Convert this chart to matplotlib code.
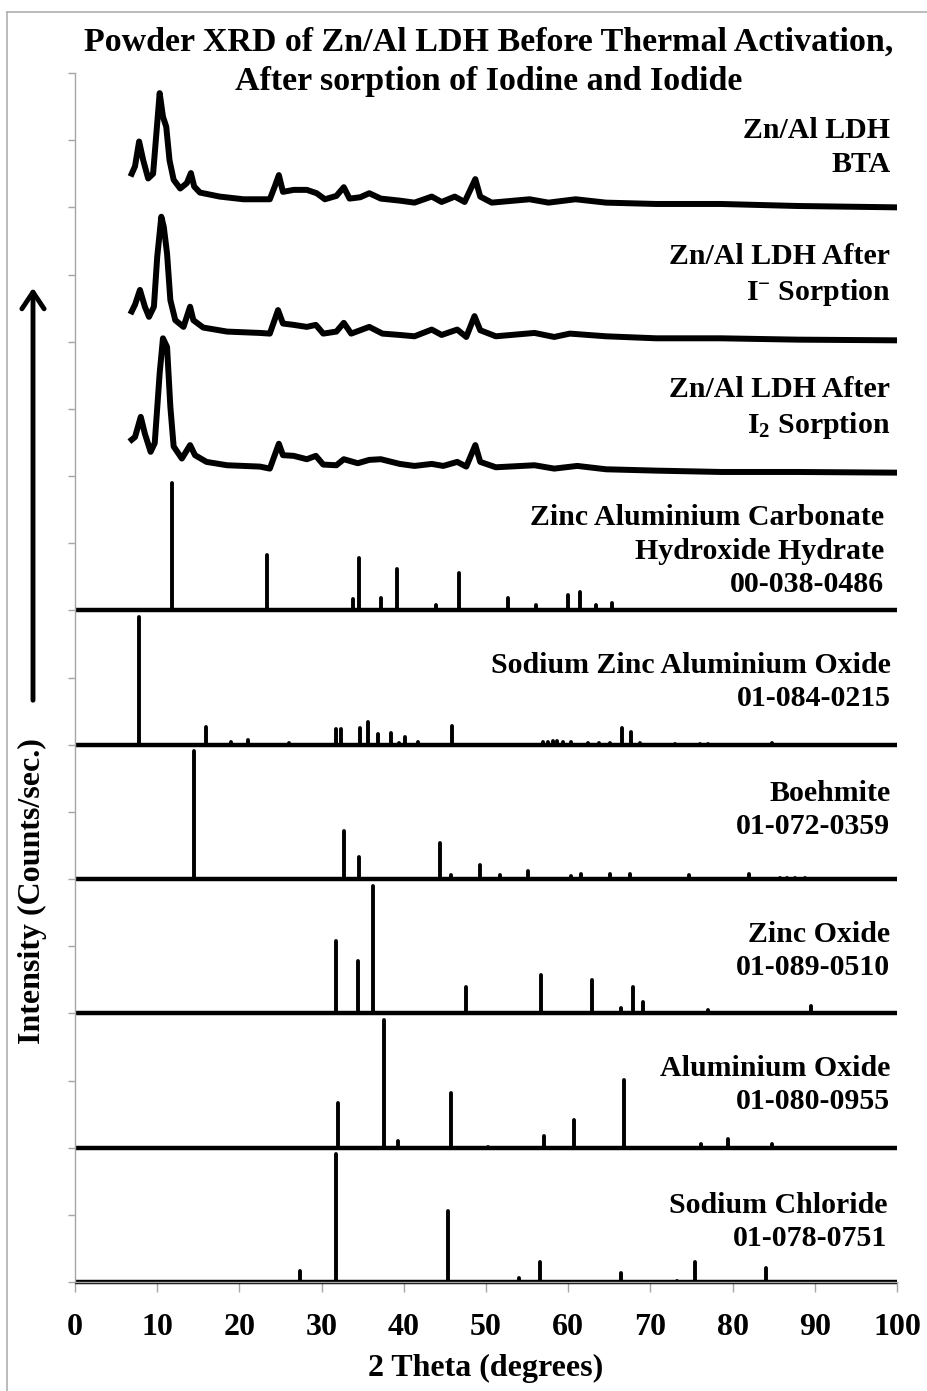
import matplotlib
matplotlib.use("Agg")
import matplotlib.pyplot as plt
from matplotlib.patches import FancyArrowPatch
from matplotlib.lines import Line2D
import numpy as np

plt.rcParams['font.family'] = ['Liberation Serif', 'DejaVu Serif']
plt.rcParams['font.weight'] = 'bold'
plt.rcParams['axes.labelweight'] = 'bold'
plt.rcParams['mathtext.fontset'] = 'custom'
plt.rcParams['mathtext.rm'] = 'Liberation Serif:bold'
plt.rcParams['mathtext.bf'] = 'Liberation Serif:bold'
plt.rcParams['mathtext.default'] = 'bf'

# --- diffractogrammes mesurés (intensité relative, au-dessus de leur décalage) ---
bta_2t = [6.9, 7.3, 7.8, 8.3, 8.9, 9.5, 10.0, 10.3, 10.7, 11.1, 11.5, 12.0, 12.8, 13.6,
          14.1, 14.5, 15.2, 17.6, 20.5, 23.7, 24.3, 24.8, 25.3, 26.6, 27.4, 28.2, 29.4,
          30.4, 31.8, 32.7, 33.4, 34.7, 35.8, 37.2, 39.5, 41.3, 43.4, 44.6, 46.2, 47.4,
          48.7, 49.3, 50.7, 55.3, 57.6, 60.9, 64.6, 70.7, 78.6, 87.9, 99.8]
bta_int = [0.50, 0.61, 0.98, 0.70, 0.43, 0.50, 1.25, 1.70, 1.35, 1.20, 0.70, 0.41, 0.28, 0.36,
           0.51, 0.31, 0.22, 0.16, 0.12, 0.12, 0.31, 0.48, 0.23, 0.26, 0.26, 0.26, 0.21,
           0.12, 0.17, 0.30, 0.13, 0.15, 0.21, 0.13, 0.10, 0.07, 0.16, 0.08, 0.16, 0.08,
           0.42, 0.16, 0.07, 0.12, 0.07, 0.12, 0.07, 0.05, 0.05, 0.02, 0.00]

iodure_2t = [6.9, 7.3, 7.9, 8.5, 9.0, 9.6, 10.0, 10.5, 10.8, 11.2, 11.6, 12.2, 13.2, 14.0,
             14.4, 15.6, 18.5, 22.5, 23.7, 24.7, 25.3, 26.6, 28.2, 29.3, 30.2, 31.8, 32.7,
             33.6, 35.8, 37.4, 39.5, 41.3, 43.4, 44.6, 46.5, 47.6, 48.6, 49.3, 51.2, 55.9,
             58.3, 60.2, 64.6, 70.7, 78.6, 87.9, 99.8]
iodure_int = [0.45, 0.55, 0.77, 0.52, 0.37, 0.52, 1.26, 1.86, 1.71, 1.31, 0.62, 0.32, 0.22, 0.52,
              0.32, 0.21, 0.15, 0.13, 0.12, 0.47, 0.27, 0.25, 0.22, 0.25, 0.12, 0.15, 0.28,
              0.12, 0.22, 0.12, 0.10, 0.08, 0.18, 0.10, 0.18, 0.07, 0.38, 0.17, 0.08, 0.13,
              0.07, 0.12, 0.08, 0.05, 0.05, 0.03, 0.02]

iode_2t = [6.9, 7.3, 8.0, 8.5, 9.2, 9.7, 10.3, 10.7, 11.2, 11.6, 12.0, 13.0, 14.0, 14.6,
           16.0, 18.5, 22.5, 23.7, 24.8, 25.3, 26.6, 28.2, 29.3, 30.2, 31.8, 32.7, 34.4,
           35.8, 37.2, 39.5, 41.3, 43.4, 44.8, 46.5, 47.6, 48.7, 49.3, 51.2, 55.9, 58.3,
           61.1, 64.6, 70.7, 78.6, 87.9, 99.8]
iode_int = [0.54, 0.58, 0.88, 0.63, 0.36, 0.49, 1.53, 2.05, 1.92, 1.03, 0.44, 0.26, 0.46, 0.31,
            0.21, 0.16, 0.14, 0.11, 0.48, 0.31, 0.30, 0.25, 0.30, 0.17, 0.16, 0.25, 0.19,
            0.24, 0.25, 0.18, 0.15, 0.18, 0.15, 0.21, 0.14, 0.46, 0.21, 0.13, 0.16, 0.11,
            0.15, 0.10, 0.08, 0.06, 0.06, 0.05]

# --- fiches de référence (position 2theta, intensité relative en %) ---
zac_2t = [11.76, 23.3, 33.8, 34.5, 37.2, 39.2, 43.9, 46.7, 52.7, 56.1, 60.0, 61.4, 63.4, 65.3]
zac_I = [100, 43, 9, 41, 10, 32, 4, 29, 10, 4, 12, 14, 4, 6]

nzao_2t = [7.8, 15.9, 19.0, 21.1, 26.0, 31.8, 32.4, 34.7, 35.7, 36.9, 38.4, 39.4, 40.1, 41.7,
           45.9, 56.9, 57.6, 58.2, 58.6, 59.4, 60.3, 62.4, 63.7, 65.1, 66.5, 67.7, 68.7,
           73.0, 76.0, 77.0, 84.8]
nzao_I = [100, 14, 2, 4, 1, 12, 12, 13, 18, 8, 9, 1, 6, 2,
          15, 2, 2, 3, 3, 2, 2, 1, 1, 1, 13, 10, 1,
          0.5, 0.5, 0.5, 1]

boehm_2t = [14.5, 32.7, 34.5, 44.4, 45.8, 49.3, 51.7, 55.1, 60.4, 61.6, 65.1, 67.5, 74.7,
            82.0, 85.8, 86.6, 87.6, 88.8]
boehm_I = [100, 38, 17, 28, 3, 11, 3, 6, 2, 4, 4, 4, 3, 4, 1, 1, 0.5, 0.5]

zno_2t = [31.7, 34.4, 36.2, 47.6, 56.7, 62.9, 66.4, 67.9, 69.1, 72.5, 77.0, 81.3, 89.5]
zno_I = [57, 41, 100, 21, 30, 26, 4, 21, 9, 0.5, 3, 0.5, 6]

al2o3_2t = [32.0, 37.6, 39.3, 45.8, 50.2, 57.0, 60.7, 66.8, 76.1, 79.4, 84.8]
al2o3_I = [35, 100, 5, 43, 0.5, 9, 22, 53, 3, 7, 3]

nacl_2t = [27.4, 31.7, 45.4, 54.0, 56.6, 66.4, 73.2, 75.4, 84.1]
nacl_I = [9, 100, 56, 3, 16, 7, 0.5, 16, 11]

noms_mesures = ["Zn/Al LDH\nBTA",
                "Zn/Al LDH After\nI$^{-}$ Sorption",
                "Zn/Al LDH After\nI$_{2}$ Sorption"]
noms_fiches = ["Zinc Aluminium Carbonate\nHydroxide Hydrate\n00-038-0486",
               "Sodium Zinc Aluminium Oxide\n01-084-0215",
               "Boehmite\n01-072-0359",
               "Zinc Oxide\n01-089-0510",
               "Aluminium Oxide\n01-080-0955",
               "Sodium Chloride\n01-078-0751"]

fig = plt.figure(figsize=(9.28, 13.91), dpi=100)
ax = fig.add_axes([75/928, 1 - 1282/1391, 822/928, 1209/1391])

taille_noms = 21.5
interligne = 1.3

# courbes mesurées, décalées vers le haut
mesures = [(bta_2t, bta_int, 16), (iodure_2t, iodure_int, 14), (iode_2t, iode_int, 12)]
for (tt, I, dec), nom, yl in zip(mesures, noms_mesures, [16.89, 14.99, 13.01]):
    ax.plot(tt, np.array(I) + dec, color='black', lw=4.3, solid_joinstyle='round')
    ax.text(99.2, yl, nom, ha='right', va='center', multialignment='right',
            fontsize=taille_noms, linespacing=interligne)

# fiches de référence en bâtons
fiches = [(zac_2t, zac_I, 10), (nzao_2t, nzao_I, 8), (boehm_2t, boehm_I, 6),
          (zno_2t, zno_I, 4), (al2o3_2t, al2o3_I, 2), (nacl_2t, nacl_I, 0)]
x_noms = [98.4, 99.2, 99.2, 99.2, 99.2, 98.8]
y_noms = [10.88, 8.93, 7.03, 4.93, 2.93, 0.89]
h_max = 1.9
for (tt, I, dec), nom, xn, yn in zip(fiches, noms_fiches, x_noms, y_noms):
    ax.vlines(tt, dec, dec + np.array(I) * h_max / 100, color='black', lw=2.8,
              capstyle='round', clip_on=False)
    ax.hlines(dec, 0, 100, color='black', lw=3.2, clip_on=False)
    ax.text(xn, yn, nom, ha='right', va='center', multialignment='right',
            fontsize=taille_noms, linespacing=interligne)

ax.set_xlim(0, 100)
ax.set_ylim(0, 18)
ax.set_xticks(np.arange(0, 101, 10))
ax.set_yticks(np.arange(0, 19, 1))
ax.set_yticklabels([])
for s in ['top', 'right']:
    ax.spines[s].set_visible(False)
for s in ['left', 'bottom']:
    ax.spines[s].set_color('#a6a6a6')
    ax.spines[s].set_linewidth(1.0)
ax.tick_params(axis='x', direction='out', length=7, width=1, color='#a6a6a6',
               labelsize=23, pad=15)
ax.tick_params(axis='y', direction='out', length=5, width=1, color='#a6a6a6')

ax.set_xlabel("2 Theta (degrees)", fontsize=23, labelpad=9)
ax.set_ylabel("Intensity (Counts/sec.)", fontsize=23)
ax.yaxis.label.set_va('center')
ax.yaxis.set_label_coords(-43/822, (1282 - 891)/1209)

fig.text(0.527, 1 - 62/1391, "Powder XRD of Zn/Al LDH Before Thermal Activation,\n"
         "After sorption of Iodine and Iodide", ha='center', va='center',
         fontsize=24.5, linespacing=1.32)

# flèche de l'axe des intensités
fleche = FancyArrowPatch((33/928, 1 - 703/1391), (33/928, 1 - 285/1391),
                         transform=fig.transFigure, arrowstyle='->,head_length=0.6,head_width=0.4',
                         lw=3.5, color='black', mutation_scale=20)
fig.add_artist(fleche)

# cadre gris
fig.add_artist(Line2D([7/928, 1], [1 - 12/1391, 1 - 12/1391], transform=fig.transFigure,
                      color='#b0b0b0', lw=1.2))
fig.add_artist(Line2D([7/928, 7/928], [0, 1 - 12/1391], transform=fig.transFigure,
                      color='#b0b0b0', lw=1.2))

fig.savefig("out.png", dpi=100)
